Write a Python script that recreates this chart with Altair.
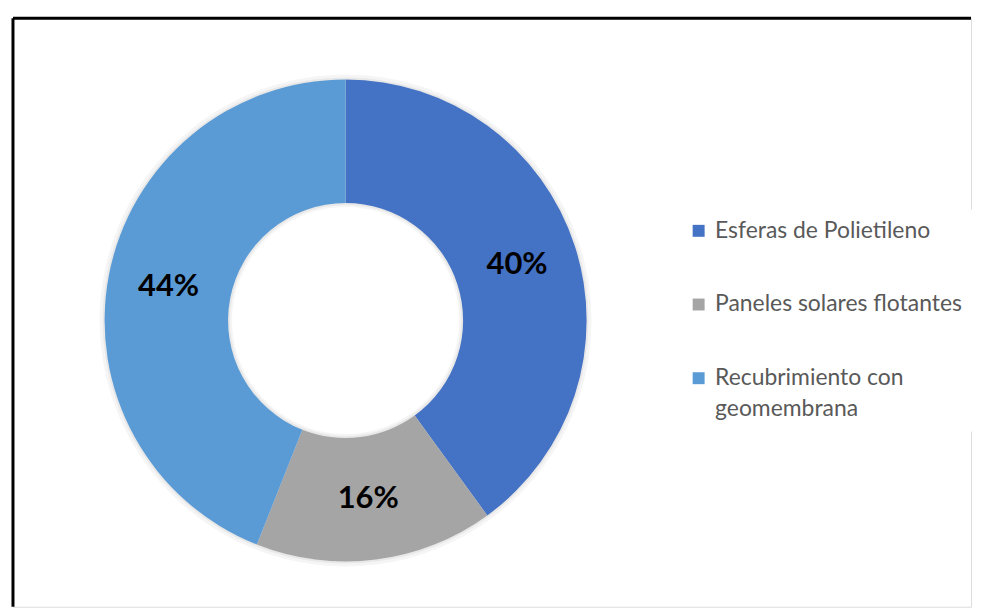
import altair as alt
import pandas as pd

categories = ["Esferas de Polietileno", "Paneles solares flotantes", "Recubrimiento con geomembrana"]
values = [40, 16, 44]
labels = ["40%", "16%", "44%"]
colors = ["#4472C4", "#A5A5A5", "#5B9BD5"]
order = [0, 1, 2]

df = pd.DataFrame({"cat": categories, "val": values, "lab": labels, "ord": order})

W, H = 962, 591
CX, CY = 334, 303.5

color = alt.Color(
    "cat:N",
    title=None,
    scale=alt.Scale(domain=categories, range=colors),
    legend=alt.Legend(
        orient="none",
        legendX=667,
        legendY=192,
        fillColor="white",
        padding=10,
        symbolType="square",
        symbolSize=144,
        symbolStrokeWidth=0,
        labelFont="Lato",
        labelFontSize=23,
        labelColor="#595959",
        rowPadding=50,
        labelOffset=5,
        labelLimit=400,
        labelExpr="datum.label == 'Recubrimiento con geomembrana' ? ['Recubrimiento con', 'geomembrana'] : datum.label",
    ),
)

base = alt.Chart(df).encode(
    theta=alt.Theta("val:Q", stack=True),
    order=alt.Order("ord:Q"),
    x=alt.value(CX),
    y=alt.value(CY),
)

shadow1 = base.mark_arc(outerRadius=247, innerRadius=114).encode(
    color=alt.value("#000000"), opacity=alt.value(0.04), detail="cat:N"
)
shadow2 = base.mark_arc(outerRadius=244, innerRadius=116).encode(
    color=alt.value("#000000"), opacity=alt.value(0.05), detail="cat:N"
)

arcs = base.mark_arc(outerRadius=242, innerRadius=118).encode(color=color)

texts = base.mark_text(
    radius=181, font="Lato", fontSize=31, fontWeight="bold", color="black"
).encode(text="lab:N", detail="cat:N")

border_top = alt.Chart(alt.Data(values=[{}])).mark_rule(color="black", strokeWidth=3).encode(
    x=alt.value(0), x2=alt.value(W), y=alt.value(0)
)
border_left = alt.Chart(alt.Data(values=[{}])).mark_rule(color="black", strokeWidth=3).encode(
    x=alt.value(0), y=alt.value(0), y2=alt.value(H)
)

chart = (
    alt.layer(shadow1, shadow2, arcs, texts, border_top, border_left)
    .properties(
        width=W,
        height=H,
        padding={"left": 3, "top": 7, "right": 0, "bottom": 0},
        background="white",
    )
    .configure_view(strokeWidth=0, fill="#f7f7f7")
    .configure(style={"guide-label": {"lineHeight": 31}})
)

chart.save("out.html", embed_options={"renderer": "svg", "actions": False})
